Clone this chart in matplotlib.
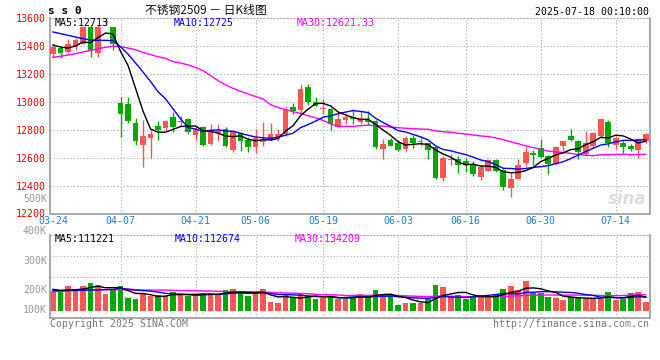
import matplotlib
matplotlib.use("Agg")
import matplotlib.pyplot as plt
import numpy as np

# ---------------- data ----------------
dates = ["03-24", "03-25", "03-26", "03-27", "03-28", "03-31",
         "04-01", "04-02", "04-03", "04-07", "04-08", "04-09", "04-10", "04-11",
         "04-14", "04-15", "04-16", "04-17", "04-18", "04-21", "04-22", "04-23",
         "04-24", "04-25", "04-28", "04-29", "04-30",
         "05-06", "05-07", "05-08", "05-09", "05-12", "05-13", "05-14", "05-15",
         "05-16", "05-19", "05-20", "05-21", "05-22", "05-23", "05-26", "05-27",
         "05-28", "05-29", "05-30",
         "06-03", "06-04", "06-05", "06-06", "06-09", "06-10", "06-11", "06-12",
         "06-13", "06-16", "06-17", "06-18", "06-19", "06-20", "06-23", "06-24",
         "06-25", "06-26", "06-27", "06-30",
         "07-01", "07-02", "07-03", "07-04", "07-07", "07-08", "07-09", "07-10",
         "07-11", "07-14", "07-15", "07-16", "07-17", "07-18"]

opens = [13338, 13381, 13353, 13393, 13410, 13536, 13345, 13572, 13531, 12993,
         12981, 12850, 12691, 12743, 12826, 12814, 12888, 12855, 12876, 12762,
         12817, 12698, 12776, 12805, 12657, 12776, 12726, 12674, 12714, 12733,
         12745, 12769, 12962, 12938, 13107, 13000, 12948, 12945, 12821, 12867,
         12893, 12855, 12869, 12862, 12660, 12726, 12702, 12660, 12738, 12712,
         12702, 12676, 12452, 12581, 12593, 12576, 12548, 12464, 12505, 12581,
         12510, 12379, 12450, 12560, 12633, 12669, 12614, 12557, 12681, 12752,
         12717, 12629, 12681, 12752, 12852, 12693, 12705, 12681, 12652, 12717]
highs = [13410, 13385, 13448, 13453, 13540, 13548, 13548, 13600, 13536, 13036,
         13031, 12881, 12869, 12798, 12862, 12869, 12929, 12900, 12880, 12829,
         12829, 12840, 12840, 12817, 12793, 12786, 12745, 12805, 12857, 12845,
         12805, 12960, 12993, 13124, 13124, 13036, 13021, 12957, 12921, 12914,
         12945, 12933, 12933, 12869, 12736, 12743, 12719, 12755, 12760, 12755,
         12707, 12683, 12612, 12624, 12612, 12595, 12576, 12548, 12593, 12588,
         12517, 12488, 12588, 12683, 12657, 12736, 12621, 12680, 12717, 12805,
         12729, 12793, 12783, 12876, 12871, 12752, 12729, 12700, 12740, 12776]
lows = [13315, 13315, 13340, 13369, 13410, 13322, 13322, 13550, 13369, 12750,
        12845, 12691, 12529, 12595, 12726, 12793, 12786, 12829, 12767, 12721,
        12686, 12690, 12721, 12674, 12638, 12650, 12638, 12633, 12681, 12721,
        12721, 12757, 12910, 12914, 12974, 12969, 12914, 12798, 12821, 12838,
        12838, 12838, 12831, 12660, 12593, 12683, 12648, 12648, 12671, 12683,
        12588, 12450, 12433, 12545, 12493, 12498, 12469, 12440, 12505, 12498,
        12369, 12321, 12445, 12540, 12550, 12598, 12479, 12550, 12645, 12717,
        12590, 12621, 12669, 12740, 12676, 12662, 12633, 12650, 12598, 12705]
closes = [13393, 13350, 13412, 13441, 13536, 13364, 13536, 13575, 13410, 12910,
          12862, 12719, 12757, 12772, 12798, 12862, 12817, 12860, 12786, 12805,
          12690, 12798, 12793, 12686, 12781, 12721, 12674, 12738, 12726, 12769,
          12769, 12943, 12933, 13088, 12998, 12969, 12952, 12838, 12874, 12890,
          12874, 12881, 12855, 12679, 12695, 12683, 12655, 12738, 12702, 12716,
          12655, 12457, 12600, 12585, 12550, 12548, 12481, 12533, 12581, 12505,
          12393, 12445, 12548, 12641, 12617, 12605, 12557, 12674, 12717, 12729,
          12638, 12705, 12776, 12876, 12705, 12740, 12676, 12664, 12736, 12769]
volumes = [165600, 157300, 204200, 165600, 204200, 229100, 212500, 138000, 171100, 204200,
           104900, 96600, 135200, 121400, 129700, 121400, 157300, 138000, 124200, 138000,
           138000, 143500, 135200, 171100, 179400, 143500, 121400, 138000, 179400, 71800,
           63500, 129700, 110400, 143500, 124200, 96600, 102100, 124200, 99400, 99400,
           110400, 138000, 110400, 171100, 138000, 127000, 46900, 63500, 63500, 66200,
           93800, 212500, 196000, 121400, 129700, 96600, 110400, 129700, 115900, 129700,
           179400, 204200, 171100, 245600, 143500, 143500, 115900, 107600, 91100, 110400,
           110400, 99400, 99400, 99400, 154600, 88300, 99400, 146300, 154600, 74500]

# moving-average values before a full window exists
ma5_head = [13405, 13390, 13383, 13398]
ma10_head = [13498, 13486, 13474, 13462, 13450, 13440, 13438, 13438, 13436]
ma30_head = [13317, 13324, 13333, 13343, 13355, 13367, 13378, 13388, 13397, 13393,
             13383, 13371, 13352, 13336, 13321, 13309, 13286, 13276, 13262, 13245,
             13221, 13186, 13150, 13119, 13095, 13074, 13055, 13036, 13019]
vma5_head = [176600, 168000, 171000, 174000]
vma10_head = [166000, 167000, 168000, 169000, 170000, 171000, 172000, 174000, 177000]
vma30_head = [157000, 160000, 163000, 166000, 168000, 171000, 174000, 174000, 174000, 174000,
              171000, 171000, 171000, 171000, 171000, 171000, 168000, 166000, 166000, 166000,
              163000, 163000, 160000, 160000, 157000, 157000, 157000, 155000, 155000]

tick_labels = ["03-24", "04-07", "04-21", "05-06", "05-19", "06-03", "06-16", "06-30", "07-14"]
price_ticks = [12200, 12400, 12600, 12800, 13000, 13200, 13400, 13600]
vol_labels = ["500K", "400K", "300K", "200K", "100K"]

title = "不锈钢2509 － 日K线图"
code = "s s 0"
stamp = "2025-07-18 00:10:00"
ma_price_text = ["MA5:12713", "MA10:12725", "MA30:12621.33"]
ma_vol_text = ["MA5:111221", "MA10:112674", "MA30:134209"]


def moving_average(vals, n, head):
    v = np.asarray(vals, dtype=float)
    out = np.empty(len(v))
    out[:n - 1] = head
    for i in range(n - 1, len(v)):
        out[i] = v[i - n + 1:i + 1].mean()
    return out


# ---------------- styling ----------------
W, H = 660, 360
RED = "#ff5555"
GREEN = "#00a800"
GRID = "#aaaaaa"
BORDER = "#999999"
MONO = "DejaVu Sans Mono"
FS = 7.1

fig = plt.figure(figsize=(W / 100, H / 100), dpi=100)
fig.patch.set_facecolor("white")


def px_axes(left, top, right, bottom):
    return fig.add_axes([left / W, 1 - bottom / H, (right - left) / W, (bottom - top) / H])


def ftext(x, y, s, **kw):
    kw.setdefault("family", MONO)
    kw.setdefault("fontsize", FS)
    kw.setdefault("va", "center")
    fig.text(x / W, 1 - y / H, s, **kw)


ax = px_axes(50, 17.7, 650, 213.5)
axv = px_axes(50, 235, 650, 318)

x = np.arange(len(dates))
o = np.array(opens, float)
c = np.array(closes, float)
h = np.array(highs, float)
l = np.array(lows, float)
up = c >= o
cols = np.where(up, RED, GREEN)
tick_pos = [dates.index(t) for t in tick_labels]
xlim = (-0.4, len(dates) - 1 + 0.57)

# ---- main panel ----
for yv in price_ticks[1:-1]:
    ax.axhline(yv, color=GRID, lw=0.8, ls=(0, (1, 2)), zorder=0)
for tp in tick_pos[1:]:
    ax.axvline(tp, color=GRID, lw=0.8, ls=(0, (1, 2)), zorder=0)

ax.vlines(x, l, h, colors=cols, lw=1.0, zorder=2)
body_lo = np.minimum(o, c)
body_h = np.maximum(np.abs(c - o), 6)
ax.bar(x, body_h, bottom=body_lo, width=0.76, color=cols, edgecolor=cols, lw=0, zorder=3)

ma5 = moving_average(closes, 5, ma5_head)
ma10 = moving_average(closes, 10, ma10_head)
ma30 = moving_average(closes, 30, ma30_head)
ax.plot(x, ma30, color="#ff00ff", lw=1.0, zorder=4)
ax.plot(x, ma10, color="#0000ff", lw=1.0, zorder=4)
ax.plot(x, ma5, color="black", lw=1.0, zorder=4)

ax.set_xlim(*xlim)
ax.set_ylim(price_ticks[0], price_ticks[-1])
ax.set_yticks(price_ticks)
ax.set_yticklabels([str(p) for p in price_ticks], family=MONO, fontsize=FS, color="#ee0000")
ax.set_xticks(tick_pos)
ax.set_xticklabels(tick_labels, family=MONO, fontsize=FS, color="#1a7fd0")
ax.tick_params(axis="both", length=0)
ax.tick_params(axis="y", pad=3)
ax.tick_params(axis="x", pad=2)
for side in ["left", "right", "bottom"]:
    ax.spines[side].set_color(BORDER)
    ax.spines[side].set_linewidth(1.2)
ax.spines["top"].set_color(GRID)
ax.spines["top"].set_linestyle((0, (1, 2)))
ax.spines["top"].set_linewidth(0.8)

ax.text(0.995, 0.03, "sina", transform=ax.transAxes, ha="right", va="bottom",
        fontsize=12, fontweight="bold", style="italic", color="#dddddd",
        family="DejaVu Sans", zorder=1)

# ---- volume panel ----
scale = 8280.0  # volume units per pixel
vlo, vhi = -(318 - 310.7) * scale, (310.7 - 235) * scale
for f in (0.25, 0.5, 0.75):
    axv.axhline(vlo + f * (vhi - vlo), color=GRID, lw=0.8, ls=(0, (1, 2)), zorder=0)
for tp in tick_pos[1:]:
    axv.axvline(tp, color=GRID, lw=0.8, ls=(0, (1, 2)), zorder=0)
axv.bar(x, volumes, width=0.76, color=cols, lw=0, zorder=2)
vma5 = moving_average(volumes, 5, vma5_head)
vma10 = moving_average(volumes, 10, vma10_head)
vma30 = moving_average(volumes, 30, vma30_head)
axv.plot(x, vma30, color="#ff00ff", lw=1.0, zorder=3)
axv.plot(x, vma10, color="#0000ff", lw=1.0, zorder=3)
axv.plot(x, vma5, color="black", lw=1.0, zorder=3)
axv.set_xlim(*xlim)
axv.set_ylim(vlo, vhi)
axv.set_xticks([])
axv.set_yticks([])
for side in ["left", "right", "bottom"]:
    axv.spines[side].set_color(BORDER)
    axv.spines[side].set_linewidth(1.2)
axv.spines["top"].set_color(GRID)
axv.spines["top"].set_linestyle((0, (1, 2)))
axv.spines["top"].set_linewidth(0.8)

for lbl, yp in zip(vol_labels, [199, 231, 261, 290, 310]):
    ftext(47, yp, lbl, ha="right", color="#999999")

# ---- header / labels ----
ftext(48, 11.5, code, ha="left", color="black", fontweight="bold", fontsize=8)
fig.text(206 / W, 1 - 10.5 / H, title, ha="center", va="center", fontsize=8.5,
         family=["Noto Sans CJK SC", "DejaVu Sans"], color="#111111")
ftext(649, 12, stamp, ha="right", color="black")

for s, xp, col in zip(ma_price_text, [55, 174, 297], ["black", "#0000ff", "#ff00ff"]):
    ftext(xp, 23.5, s, ha="left", color=col)
for s, xp, col in zip(ma_vol_text, [55, 175, 295], ["black", "#0000ff", "#ff00ff"]):
    ftext(xp, 238.5, s, ha="left", color=col)

ftext(50, 324, "Copyright 2025 SINA.COM", ha="left", color="#777777")
ftext(649, 324, "http://finance.sina.com.cn", ha="right", color="#777777")

fig.savefig("out.png", dpi=100, facecolor="white")
